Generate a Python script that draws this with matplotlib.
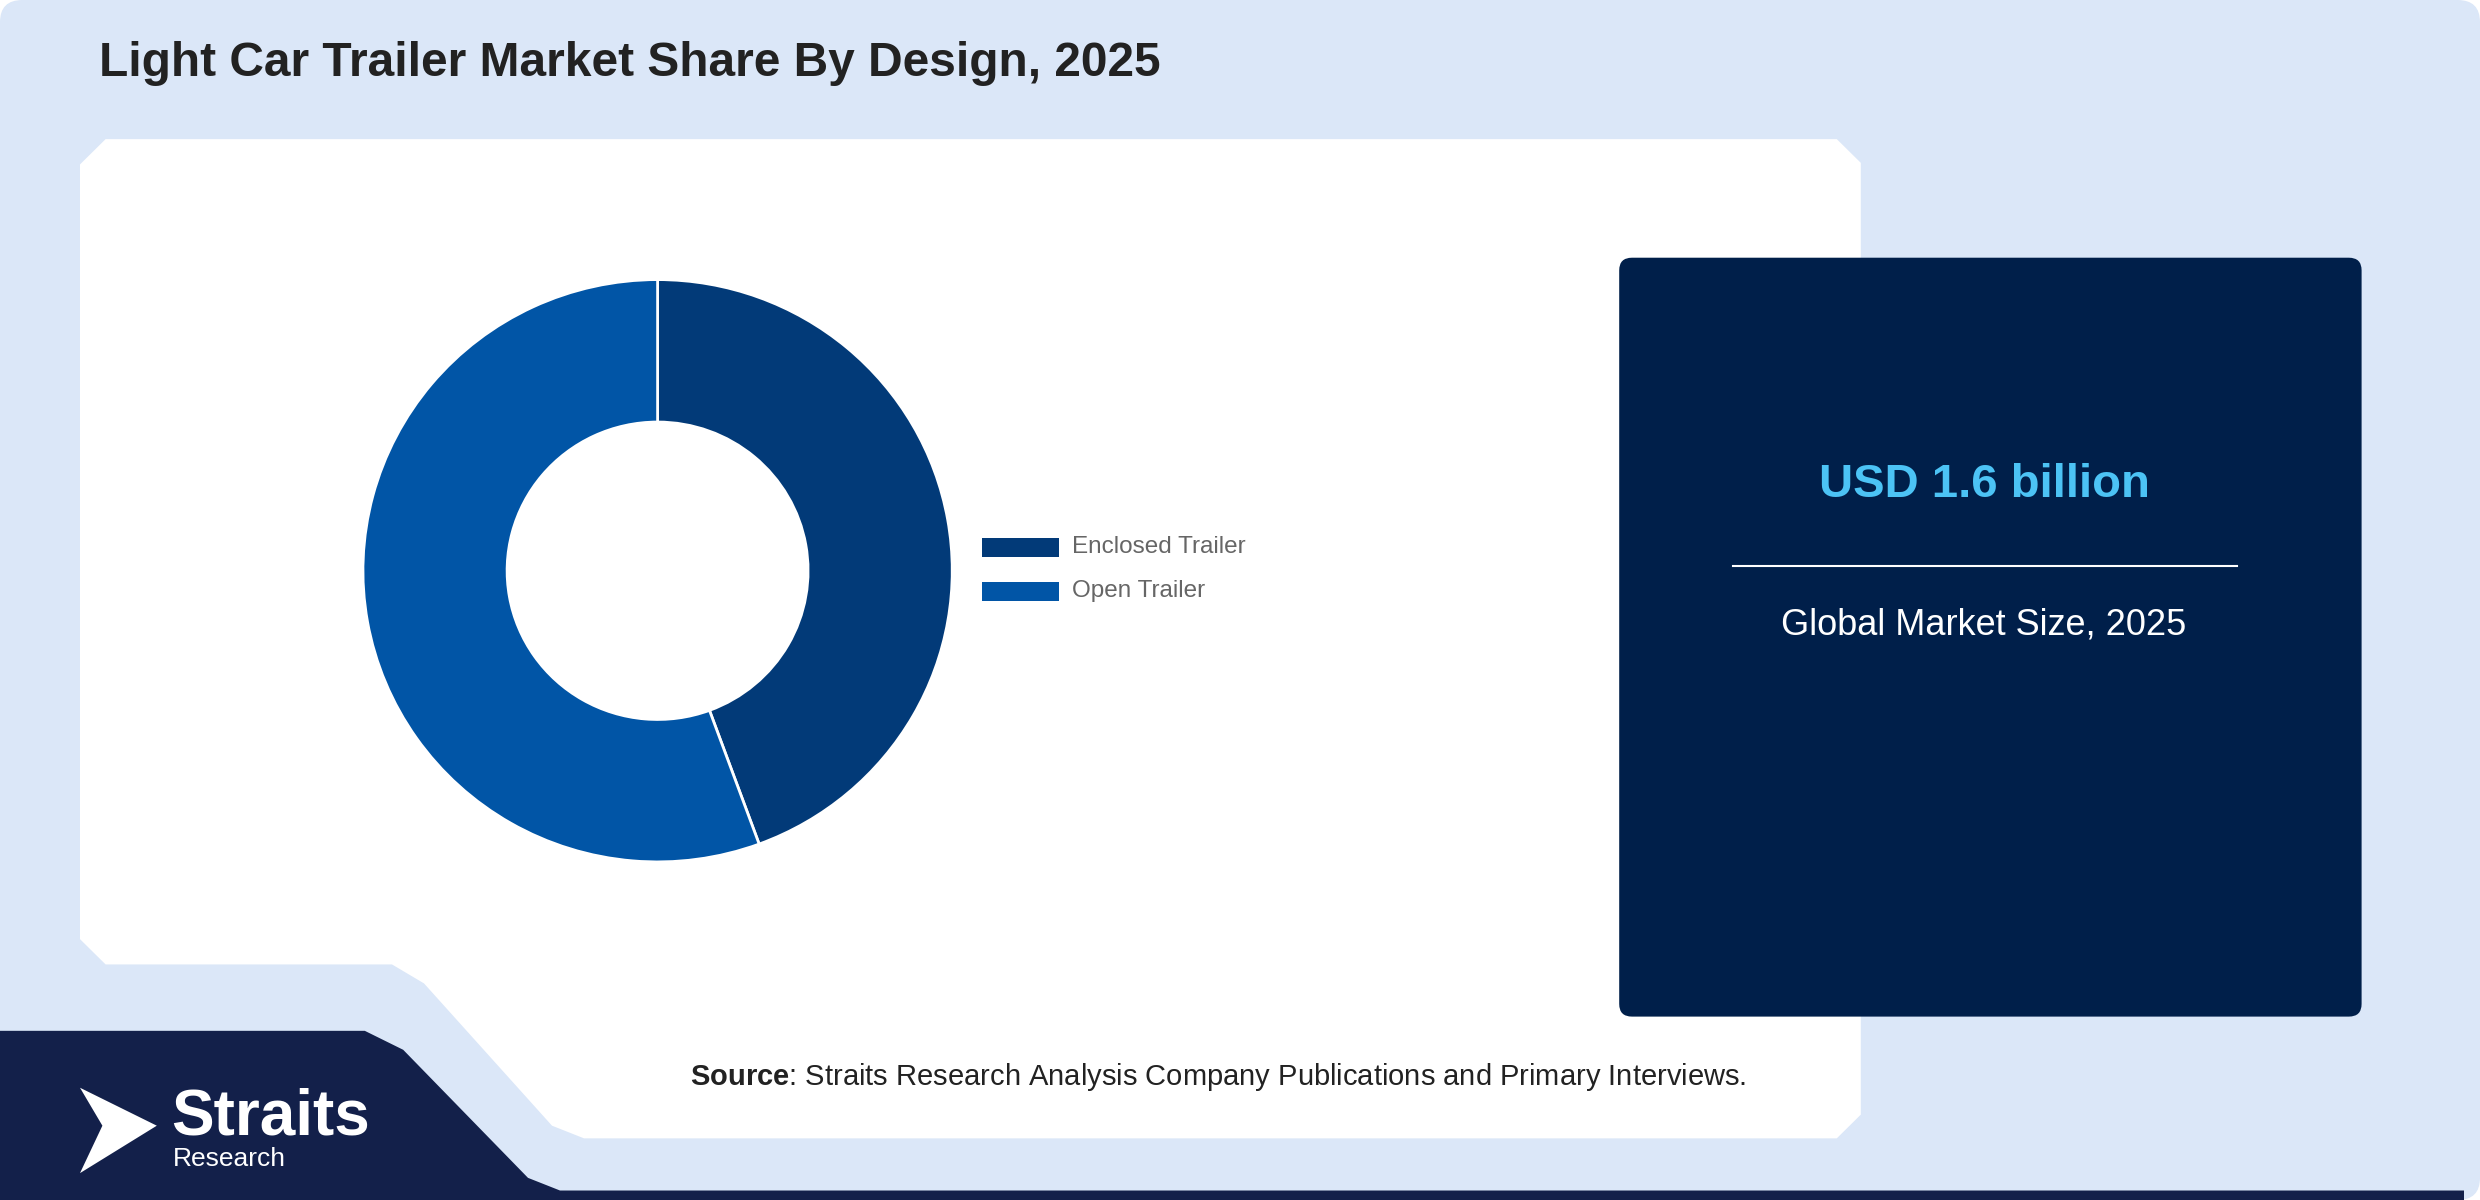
import matplotlib
matplotlib.use("Agg")
import matplotlib.pyplot as plt
from matplotlib.patches import FancyBboxPatch, Polygon, Rectangle

plt.rcParams['font.family'] = ['Liberation Sans', 'DejaVu Sans']
plt.rcParams['mathtext.fontset'] = 'custom'
plt.rcParams['mathtext.bf'] = 'Liberation Sans:bold'
plt.rcParams['mathtext.rm'] = 'Liberation Sans'

categories = ["Enclosed Trailer", "Open Trailer"]
shares = [44.4, 55.6]
colors = ["#023a78", "#0155a6"]

W, H = 1550, 759
fig = plt.figure(figsize=(24.8, 12), dpi=100)
bg = fig.add_axes([0, 0, 1, 1])
bg.set_xlim(0, W); bg.set_ylim(H, 0); bg.axis("off")
fig.patch.set_facecolor("white")
bg.add_patch(FancyBboxPatch((0, 0), W, H, boxstyle="round,pad=0,rounding_size=14", fc="#dbe7f8", ec="none"))
bg.add_patch(Polygon([(66, 88), (1148, 88), (1163, 103), (1163, 705), (1148, 720), (365, 720), (345, 712),
                      (265, 622), (245, 610), (66, 610), (50, 594), (50, 104)], closed=True, fc="white", ec="none"))
bg.add_patch(Polygon([(0, 652), (228, 652), (252, 664), (330, 745), (350, 753), (1540, 753), (1540, 759), (0, 759)],
                     closed=True, fc="#13204a", ec="none"))
bg.add_patch(FancyBboxPatch((1012, 163), 464, 480, boxstyle="round,pad=0,rounding_size=8", fc="#001f4a", ec="none"))
bg.text(1240, 307, "USD 1.6 billion", color="#4cc3f5", fontsize=34, fontweight="bold", ha="center", va="center")
bg.plot([1083, 1398], [358, 358], color="white", lw=1.5)
bg.text(1240, 395, "Global Market Size, 2025", color="white", fontsize=26, ha="center", va="center")
bg.text(62, 40, "Light Car Trailer Market Share By Design, 2025", color="#222222", fontsize=34.5, fontweight="bold", va="center")
bg.text(431, 681, r"$\bf{Source}$: Straits Research Analysis Company Publications and Primary Interviews.",
        color="#222222", fontsize=21, va="center")
for i, (c, col) in enumerate(zip(categories, colors)):
    y = 346 + 28 * i
    bg.add_patch(Rectangle((614, y - 6), 48, 12, fc=col, ec="none"))
    bg.text(670, y, c, color="#666666", fontsize=17.5, va="center")
bg.add_patch(Polygon([(50, 688), (98, 712), (50, 742), (64, 712)], closed=True, fc="white", ec="none"))
bg.text(107, 707, "Straits", color="white", fontsize=46, fontweight="bold", va="center")
bg.text(108, 733, "Research", color="white", fontsize=19, va="center")

cx, cy, r = 411, 361, 186
ax = fig.add_axes([(cx - r) / W, 1 - (cy + r) / H, 2 * r / W, 2 * r / H])
ax.pie(shares, colors=colors, startangle=90, counterclock=False, radius=1,
       wedgeprops=dict(width=1 - 95 / 186, edgecolor="white", linewidth=2))
ax.set_xlim(-1.01, 1.01); ax.set_ylim(-1.01, 1.01); ax.set_aspect("auto")
fig.savefig("out.png", dpi=100)
